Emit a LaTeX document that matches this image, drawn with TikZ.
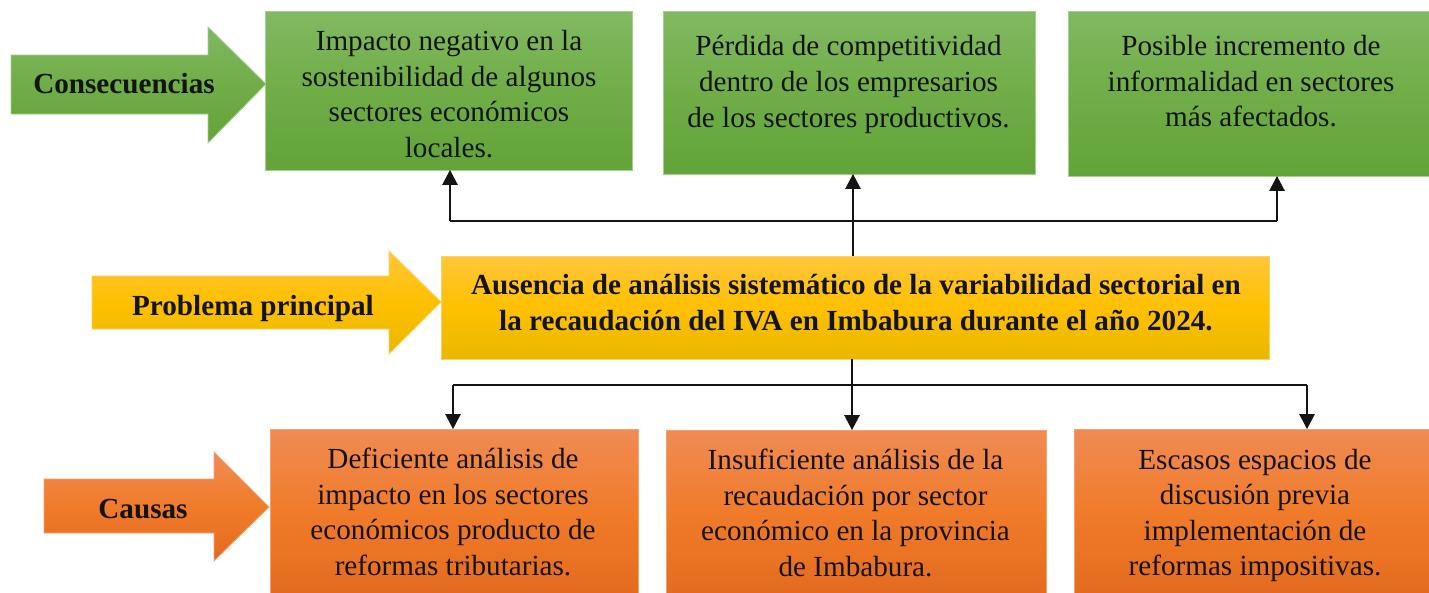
\documentclass[tikz,border=0pt]{standalone}
\usepackage{fontspec}
\setmainfont{Liberation Serif}
\usetikzlibrary{arrows.meta,calc}
\definecolor{gtop}{RGB}{129,185,98}
\definecolor{gmid}{RGB}{112,173,71}
\definecolor{gbot}{RGB}{98,164,57}
\definecolor{ytop}{RGB}{255,198,58}
\definecolor{ymid}{RGB}{255,192,0}
\definecolor{ybot}{RGB}{232,184,0}
\definecolor{otop}{RGB}{240,139,84}
\definecolor{omid}{RGB}{240,123,42}
\definecolor{obot}{RGB}{228,107,30}
\definecolor{ink}{RGB}{20,20,20}
\begin{document}
\begin{tikzpicture}[x=0.02cm,y=-0.02cm,
  gfill/.style={top color=gtop, bottom color=gbot, middle color=gmid, draw=gtop!70!white, line width=0.5pt},
  yfill/.style={top color=ytop, bottom color=ybot, middle color=ymid, draw=ytop!80!white, line width=0.5pt},
  ofill/.style={top color=otop, bottom color=obot, middle color=omid, draw=otop!80!white, line width=0.5pt},
  boxg/.style={gfill, shape=rectangle, inner sep=0pt, outer sep=0pt},
  boxy/.style={yfill, shape=rectangle, inner sep=0pt, outer sep=0pt},
  boxo/.style={ofill, shape=rectangle, inner sep=0pt, outer sep=0pt},
  txt/.style={align=center, inner sep=0pt, text=ink, font=\fontsize{16.6}{20.25}\selectfont},
  btxt/.style={align=center, inner sep=0pt, text=ink, font=\fontsize{16.6}{20.25}\selectfont\bfseries},
  link/.style={line width=0.7pt, draw=ink},
  conn/.style={line width=0.7pt, draw=ink, -{Triangle[width=0.31cm,length=0.3cm]}}]
\useasboundingbox (0,0) rectangle (1429,592);

% big arrows
\shade[gfill] (11,55) -- (208,55) -- (208,27) -- (266,84) -- (208,143) -- (208,114) -- (11,114) -- cycle;
\shade[yfill] (92,276) -- (389,276) -- (389,251) -- (441,302) -- (389,354) -- (389,329) -- (92,329) -- cycle;
\shade[ofill] (44,479) -- (214,479) -- (214,452) -- (269,507) -- (214,561) -- (214,533) -- (44,533) -- cycle;
\node[btxt, anchor=base] (lcons) at (124,93) {Consecuencias};
\node[btxt, anchor=base] (lprob) at (253,315) {Problema principal};
\node[btxt, anchor=base] (lcaus) at (143,518) {Causas};

% consequence boxes
\node[boxg, minimum width=7.34cm, minimum height=3.18cm] (c1) at (448.5,90.5) {};
\node[boxg, minimum width=7.44cm, minimum height=3.26cm] (c2) at (849,92.5) {};
\node[boxg, minimum width=7.24cm, minimum height=3.3cm] (c3) at (1249,93.5) {};
\node[txt] (t1) at (449,94) {Impacto negativo en la\\sostenibilidad de algunos\\sectores económicos\\locales.};
\node[txt] (t2) at (848.5,84.5) {Pérdida de competitividad\\dentro de los empresarios\\de los sectores productivos.};
\node[txt] (t3) at (1251,81.5) {Posible incremento de\\informalidad en sectores\\más afectados.};

% main problem
\node[boxy, minimum width=16.58cm, minimum height=2.06cm] (y) at (855.5,307.5) {};
\node[btxt] (ty) at (856,302.5) {Ausencia de análisis sistemático de la variabilidad sectorial en\\la recaudación del IVA en Imbabura durante el año 2024.};

% cause boxes
\node[boxo, minimum width=7.36cm, minimum height=3.3cm] (o1) at (454,511.5) {};
\node[boxo, minimum width=7.6cm, minimum height=3.28cm] (o2) at (856,512) {};
\node[boxo, minimum width=7.14cm, minimum height=3.3cm] (o3) at (1253,511.5) {};
\node[txt] (u1) at (453,512) {Deficiente análisis de\\impacto en los sectores\\económicos producto de\\reformas tributarias.};
\node[txt] (u2) at (855.5,513) {Insuficiente análisis de la\\recaudación por sector\\económico en la provincia\\de Imbabura.};
\node[txt] (u3) at (1255,515.5) {Escasos espacios de\\discusión previa\\implementación de\\reformas impositivas.};

% connectors top
\coordinate (bl) at (450,221);
\coordinate (br) at (1277,221);
\draw[link] (bl) -- (br);
\draw[conn] (bl) -- (bl |- c1.south);
\draw[conn] (br) -- (br |- c3.south);
\draw[conn] ([xshift=-0.05cm]y.north) -- ([xshift=-0.05cm]y.north |- c2.south);

% connectors bottom
\coordinate (dl) at (453,385);
\coordinate (dr) at (1307,385);
\draw[link] (dl) -- (dr);
\draw[conn] (dl) -- (dl |- o1.north);
\draw[conn] (dr) -- (dr |- o3.north);
\draw[conn] ([xshift=-0.07cm]y.south) -- ([xshift=-0.07cm]y.south |- o2.north);
\end{tikzpicture}
\end{document}
